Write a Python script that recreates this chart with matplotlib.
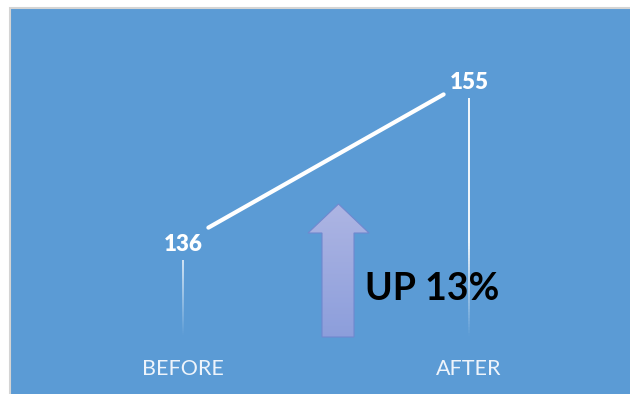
import matplotlib
matplotlib.use('Agg')
import matplotlib.pyplot as plt
import numpy as np
from matplotlib.patches import Rectangle, Polygon
from matplotlib.collections import LineCollection

# Valores do gráfico
categorias = ['BEFORE', 'AFTER']
valores = [136, 155]
rotulo_variacao = 'UP 13%'

W, H = 630, 394
azul = '#5b9bd5'
fonte = 'Lato'

fig = plt.figure(figsize=(W / 100, H / 100), dpi=100)
fig.patch.set_facecolor('white')

# Fundo azul com borda cinza clara
fig.add_artist(Rectangle((10 / W, -0.05), 1.0, (H - 8) / H + 0.05, transform=fig.transFigure,
                         facecolor=azul, edgecolor='#d4d4d4', linewidth=1.5, zorder=0))

# Eixo principal (posição das categorias e escala dos valores)
ax = fig.add_axes([40 / W, (H - 335.8) / H, 572 / W, 298.4 / H])
ax.set_xlim(-0.5, 1.5)
ax.set_ylim(125, 160)
ax.axis('off')
ax.patch.set_alpha(0)

x = np.arange(len(categorias))

# Linha entre os pontos, encurtada para não cobrir os rótulos
ax.annotate('', xy=(x[1], valores[1]), xytext=(x[0], valores[0]),
            arrowprops=dict(arrowstyle='-', color='white', lw=3, shrinkA=21, shrinkB=21))

# Linhas de queda com degradê (somem perto da base)
y_min = ax.get_ylim()[0]
for xi, v in zip(x, valores):
    ys = np.linspace(v - 2.15, y_min, 80)
    segs = [[(xi, ys[k]), (xi, ys[k + 1])] for k in range(len(ys) - 1)]
    meio = (ys[:-1] + ys[1:]) / 2
    alfa = np.clip((meio - y_min) / (136.2 - y_min), 0, 1)
    cores = [(1, 1, 1, a) for a in alfa]
    ax.add_collection(LineCollection(segs, colors=cores, linewidths=1.3))

# Rótulos de valor
for xi, v in zip(x, valores):
    ax.annotate(str(v), (xi, v), xytext=(0, -6.3), textcoords='offset points',
                ha='center', va='baseline', color='white', fontsize=16,
                fontweight='heavy', family=fonte)

# Rótulos das categorias
for xi, c in zip(x, categorias):
    ax.annotate(c, (xi, 0), xycoords=('data', 'axes fraction'), xytext=(0, -28.2),
                textcoords='offset points', ha='center', va='baseline',
                color='#eef4fb', fontsize=15.5, family=fonte)

# Camada em pixels para a seta e o texto de variação
ov = fig.add_axes([0, 0, 1, 1])
ov.axis('off')
ov.patch.set_alpha(0)

seta = [(322, 337), (322, 233), (308, 233), (338.5, 204), (369, 233),
        (354, 233), (354, 337)]
poly = Polygon(seta, closed=True, facecolor='none', edgecolor='#7088cf', linewidth=0.8, zorder=3)
ov.add_patch(poly)
grad = np.linspace(0, 1, 256)[:, None]
topo = np.array([0.68, 0.71, 0.89])
base = np.array([0.55, 0.62, 0.86])
img = topo[None, None, :] * (1 - grad[:, :, None]) + base[None, None, :] * grad[:, :, None]
im = ov.imshow(img, extent=(308, 369, 337, 204), aspect='auto', zorder=2)
im.set_clip_path(poly)
ov.set_xlim(0, W)
ov.set_ylim(H, 0)

ov.text(365, 300, rotulo_variacao, ha='left', va='baseline', color='black',
        fontsize=27, fontweight='bold', family=fonte)

fig.savefig('out.png', dpi=100)
